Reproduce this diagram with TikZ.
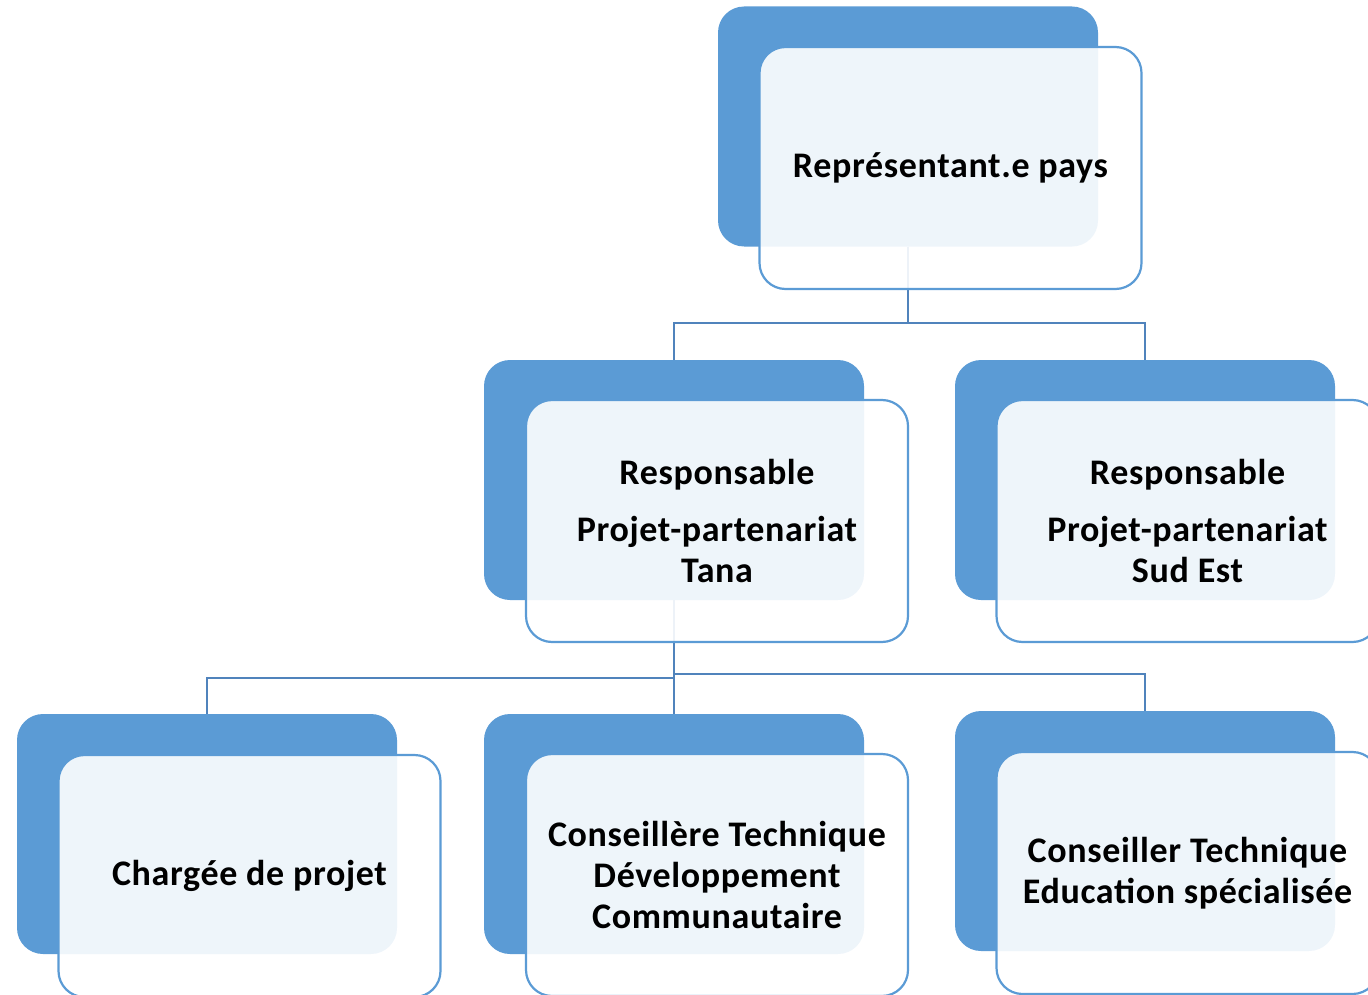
\documentclass[tikz,border=0pt]{standalone}
\usepackage{fontspec}
\setmainfont{Carlito}[LetterSpace=1.8]
\definecolor{accent}{HTML}{5B9BD5}
\definecolor{connc}{HTML}{5083BC}
\begin{document}
\begin{tikzpicture}[x=1pt,y=-1pt,
  backbox/.style={fill=accent,draw=none,rounded corners=26pt,minimum width=380pt,minimum height=240pt,inner sep=0pt},
  frontbox/.style={fill=white,fill opacity=0.9,text opacity=1,draw=accent,line width=2.2pt,rounded corners=26pt,minimum width=382pt,minimum height=242pt,inner sep=0pt,align=center,font=\bfseries\fontsize{36}{41}\selectfont},
  conn/.style={draw=connc,line width=2.4pt}]
\useasboundingbox (0,0) rectangle (1368,995);
\clip (0,0) rectangle (1368,995);
% back boxes
\node[backbox] (b1) at (908,126.5) {};
\node[backbox] (b2) at (674,480) {};
\node[backbox] (b3) at (1145,480) {};
\node[backbox] (b4) at (207,834) {};
\node[backbox] (b5) at (674,834) {};
\node[backbox] (b6) at (1145,831) {};
% connectors
\coordinate (j1) at (908,323);
\coordinate (j2) at (674,678);
\coordinate (j3) at (674,674);
\draw[conn] (b1.south) -- (j1);
\draw[conn] (b2.north) |- (j1) -| (b3.north);
\draw[conn] (b2.south) -- (b5.north);
\draw[conn] (b4.north) |- (j2);
\draw[conn] (j3) -| (b6.north);
% front boxes
\node[frontbox] (f1) at (950.5,168) {Représentant.e pays};
\node[frontbox] (f2) at (717,521) {Responsable\\[16pt]Projet-partenariat\\Tana};
\node[frontbox] (f3) at (1187.5,521) {Responsable\\[16pt]Projet-partenariat\\Sud Est};
\node[frontbox] (f4) at (249.5,876) {Chargée de projet};
\node[frontbox] (f5) at (717,875) {Conseillère Technique\\Développement\\Communautaire};
\node[frontbox] (f6) at (1187.5,873) {Conseiller Technique\\Education spécialisée};
\end{tikzpicture}
\end{document}
